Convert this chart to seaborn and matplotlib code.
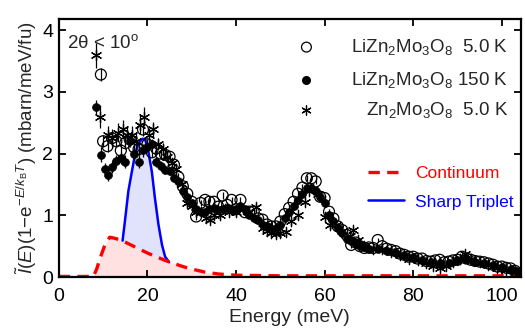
import numpy as np
import pandas as pd
import matplotlib
matplotlib.use("Agg")
import matplotlib.pyplot as plt
import seaborn as sns

# ---------------- data ----------------
# LiZn2Mo3O8 5.0 K (open circles)
open_E = [9.5, 10, 11, 12, 13, 14, 15, 16, 17, 18, 19, 20, 21, 22, 23, 24, 25, 26, 27, 28,
          29, 30, 31, 32, 33, 34, 35, 36, 37, 38, 39, 40, 41, 42, 43, 44, 45, 46, 47, 48,
          49, 50, 51, 52, 53, 54, 55, 56, 57, 58, 59, 60, 61, 62, 63, 64, 65, 66, 67, 68,
          69, 70, 71, 72, 73, 74, 75, 76, 77, 78, 79, 80, 81, 82, 83, 84, 85, 86, 87, 88,
          89, 90, 91, 92, 93, 94, 95, 96, 97, 98, 99, 100, 101, 102, 103]
open_I = [3.28, 2.20, 2.12, 2.25, 2.20, 2.05, 2.17, 2.23, 2.10, 2.07, 2.39, 2.15, 2.02, 2.08, 2.00, 1.98, 1.95, 1.82, 1.62, 1.47,
          1.35, 1.22, 0.98, 1.20, 1.25, 1.22, 1.22, 1.14, 1.32, 1.17, 1.25, 1.10, 1.25, 1.05, 1.06, 1.06, 0.95, 0.93, 0.85, 0.82,
          0.82, 0.90, 1.02, 1.12, 1.22, 1.35, 1.45, 1.60, 1.60, 1.55, 1.30, 1.28, 1.06, 0.95, 0.82, 0.76, 0.68, 0.52, 0.56, 0.50,
          0.47, 0.48, 0.47, 0.60, 0.50, 0.46, 0.44, 0.42, 0.38, 0.36, 0.33, 0.33, 0.30, 0.30, 0.26, 0.25, 0.27, 0.28, 0.24, 0.25,
          0.27, 0.28, 0.33, 0.30, 0.28, 0.26, 0.25, 0.24, 0.22, 0.20, 0.17, 0.17, 0.15, 0.14, 0.10]
open_err = [0.10, 0.10, 0.10, 0.10, 0.10, 0.10, 0.10, 0.10, 0.10, 0.10, 0.10, 0.08, 0.08, 0.08, 0.08, 0.08, 0.06, 0.06, 0.06, 0.06,
            0.05, 0.05, 0.05, 0.05, 0.05, 0.05, 0.05, 0.05, 0.05, 0.05, 0.05, 0.05, 0.05, 0.05, 0.05, 0.05, 0.05, 0.05, 0.05, 0.05,
            0.05, 0.05, 0.05, 0.05, 0.05, 0.05, 0.05, 0.05, 0.05, 0.05, 0.05, 0.05, 0.05, 0.05, 0.05, 0.05, 0.05, 0.05, 0.05, 0.05,
            0.04, 0.04, 0.04, 0.04, 0.04, 0.04, 0.04, 0.04, 0.04, 0.04, 0.04, 0.04, 0.04, 0.04, 0.04, 0.04, 0.04, 0.04, 0.04, 0.04,
            0.04, 0.04, 0.04, 0.04, 0.04, 0.04, 0.04, 0.04, 0.04, 0.04, 0.04, 0.04, 0.04, 0.04, 0.04]

# LiZn2Mo3O8 150 K (filled circles)
fill_E = [8.5, 9.5, 10.5, 11.2, 12, 13, 14, 15, 16, 17, 18, 19, 20, 21, 22, 23, 24, 25, 26, 27,
          28, 29, 30, 31, 32, 33, 34, 35, 36, 37, 38, 39, 40, 41, 42, 43, 44, 45, 46, 47,
          48, 49, 50, 51, 52, 53, 54, 55, 56, 57, 58, 59, 60, 61, 62, 63, 64, 65, 66, 67,
          68, 69, 70, 72, 74, 76, 78, 80, 82, 84, 86, 88, 90, 92, 94, 96, 98, 100, 102, 103.5]
fill_I = [2.75, 1.98, 1.75, 1.65, 1.78, 1.88, 1.93, 1.87, 2.20, 2.00, 1.87, 2.05, 2.10, 2.15, 1.87, 1.80, 1.74, 1.72, 1.60, 1.55,
          1.40, 1.30, 1.20, 1.10, 1.05, 1.05, 1.10, 1.12, 1.08, 1.10, 1.12, 1.08, 1.10, 1.15, 1.10, 1.00, 0.95, 0.92, 0.85, 0.82,
          0.78, 0.80, 0.85, 0.95, 1.05, 1.15, 1.25, 1.35, 1.45, 1.45, 1.40, 1.30, 1.20, 1.00, 0.90, 0.80, 0.72, 0.62, 0.58, 0.53,
          0.50, 0.48, 0.46, 0.45, 0.43, 0.40, 0.35, 0.32, 0.28, 0.25, 0.22, 0.22, 0.28, 0.30, 0.25, 0.22, 0.20, 0.16, 0.13, 0.10]
fill_err = [0.12, 0.12, 0.10, 0.10, 0.10, 0.10, 0.10, 0.10, 0.10, 0.10, 0.10, 0.10, 0.08, 0.08, 0.08, 0.08, 0.06, 0.06, 0.06, 0.06,
            0.05, 0.05, 0.05, 0.05, 0.05, 0.05, 0.05, 0.05, 0.05, 0.05, 0.05, 0.05, 0.05, 0.05, 0.05, 0.05, 0.05, 0.05, 0.05, 0.05,
            0.05, 0.05, 0.05, 0.05, 0.05, 0.05, 0.05, 0.05, 0.05, 0.05, 0.05, 0.05, 0.05, 0.05, 0.05, 0.05, 0.05, 0.05, 0.05, 0.05,
            0.04, 0.04, 0.04, 0.04, 0.04, 0.04, 0.04, 0.04, 0.04, 0.04, 0.04, 0.04, 0.04, 0.04, 0.04, 0.04, 0.04, 0.04, 0.04, 0.04]

# Zn2Mo3O8 5.0 K (asterisks)
star_E = [8.4, 9.4, 11, 12, 13.4, 14.5, 15.3, 16.5, 17.5, 18.3, 19.3, 20.3, 21.3, 22.5, 23.5, 24.5, 25.5, 26.5, 27.8, 29,
          30, 31, 32, 33.3, 34.1, 35, 36.5, 37.5, 38.5, 40, 41.5, 43, 44.6, 46, 47, 48, 49, 50, 51.4, 52.5,
          54, 55.5, 56.5, 57.5, 58.5, 60, 61.2, 62.5, 64, 65.7, 66.4, 67.5, 69, 71, 73, 75, 77, 79, 81, 83,
          84.5, 86, 87.5, 89, 90.5, 91.7, 93, 95, 97, 99, 101, 103]
star_I = [3.59, 2.60, 2.30, 2.25, 2.34, 2.40, 2.30, 2.30, 2.20, 2.47, 2.60, 2.30, 2.39, 2.15, 2.07, 1.95, 1.85, 1.75, 1.50, 1.20,
          1.15, 1.05, 1.05, 0.95, 0.93, 1.00, 1.00, 1.10, 1.05, 1.05, 1.10, 1.05, 1.14, 0.79, 0.75, 0.72, 0.70, 0.71, 0.73, 0.90,
          1.00, 1.22, 1.40, 1.42, 1.35, 0.98, 0.85, 0.85, 0.75, 0.66, 0.76, 0.60, 0.50, 0.45, 0.45, 0.40, 0.35, 0.30, 0.28, 0.22,
          0.18, 0.14, 0.18, 0.25, 0.30, 0.37, 0.30, 0.25, 0.20, 0.15, 0.12, 0.08]
star_err = [0.20, 0.18, 0.15, 0.15, 0.15, 0.15, 0.15, 0.15, 0.15, 0.15, 0.15, 0.12, 0.12, 0.10, 0.10, 0.08, 0.08, 0.08, 0.06, 0.06,
            0.06, 0.06, 0.06, 0.06, 0.06, 0.06, 0.06, 0.06, 0.06, 0.06, 0.06, 0.06, 0.06, 0.06, 0.06, 0.06, 0.06, 0.06, 0.06, 0.06,
            0.06, 0.06, 0.06, 0.06, 0.06, 0.06, 0.05, 0.05, 0.05, 0.05, 0.05, 0.05, 0.05, 0.05, 0.05, 0.05, 0.05, 0.05, 0.05, 0.05,
            0.05, 0.05, 0.05, 0.05, 0.05, 0.05, 0.05, 0.05, 0.05, 0.05, 0.05, 0.05]

# Model curves
cont_E = [0, 7.8, 8.5, 9.3, 10.4, 11.5, 12.5, 14, 16, 18, 20, 22, 24, 26, 28, 30, 33, 36, 40, 50, 104]
cont_I = [0.01, 0.01, 0.12, 0.30, 0.52, 0.645, 0.63, 0.60, 0.53, 0.46, 0.39, 0.33, 0.27, 0.22, 0.17, 0.13, 0.08, 0.05, 0.03, 0.02, 0.02]
trip_E = [14.4, 15.0, 15.7, 16.5, 17.2, 18.0, 18.9, 19.5, 20.2, 21.0, 21.7, 22.5, 23.3, 24.0, 24.9]
trip_I = [0.59, 0.95, 1.39, 1.71, 1.98, 2.17, 2.24, 2.23, 2.04, 1.71, 1.28, 0.85, 0.52, 0.33, 0.24]

x_ticks = [0, 20, 40, 60, 80, 100]
y_ticks = [0, 1, 2, 3, 4]
series_labels = [r"LiZn$_2$Mo$_3$O$_8$  5.0 K", r"LiZn$_2$Mo$_3$O$_8$ 150 K", r"Zn$_2$Mo$_3$O$_8$  5.0 K"]

# ---------------- style ----------------
sns.set_theme(style="ticks")
plt.rcParams["font.family"] = ["Liberation Sans", "DejaVu Sans"]
plt.rcParams["mathtext.fontset"] = "custom"
plt.rcParams["mathtext.rm"] = "Liberation Sans"
plt.rcParams["mathtext.it"] = "Liberation Sans:italic"
plt.rcParams["mathtext.bf"] = "Liberation Sans:bold"

fig = plt.figure(figsize=(5.25, 3.33), dpi=100)
ax = fig.add_axes([0.112, 0.168, 0.88, 0.775])

# fills
cont_on_trip = np.interp(trip_E, cont_E, cont_I)
ax.fill_between(cont_E, 0, cont_I, color="#ffe1e1", lw=0, zorder=0)
ax.fill_between(trip_E, cont_on_trip, trip_I, color="#e0e3fb", lw=0, zorder=0)

# lines
sns.lineplot(x=trip_E, y=trip_I, ax=ax, color="#0000ff", lw=1.8, sort=False,
             estimator=None, label="Sharp Triplet", zorder=2)
sns.lineplot(x=cont_E, y=cont_I, ax=ax, color="#ff0000", lw=2.4, sort=False,
             estimator=None, label="Continuum", zorder=2)
ax.lines[-1].set_dashes([3.4, 2.2])

# error bars
ekw = dict(fmt="none", ecolor="black", elinewidth=0.9, capsize=0, zorder=3)
ax.errorbar(fill_E, fill_I, yerr=fill_err, **ekw)
ax.errorbar(star_E, star_I, yerr=star_err, **ekw)
ax.errorbar(open_E, open_I, yerr=open_err, **ekw)

# points
sns.scatterplot(x=fill_E, y=fill_I, ax=ax, marker="o", s=32, color="black",
                edgecolor="black", linewidth=0.5, zorder=4, legend=False)
sns.scatterplot(x=star_E, y=star_I, ax=ax, marker=(6, 2, 0), s=55, color="black",
                edgecolor="black", linewidth=0.9, zorder=4, legend=False)
sns.scatterplot(x=open_E, y=open_I, ax=ax, marker="o", s=62, facecolor="none",
                edgecolor="black", linewidth=0.9, zorder=5, legend=False)

# axes
ax.set_xlim(0, 104.3)
ax.set_ylim(0, 4.18)
ax.set_xticks(x_ticks)
ax.set_yticks(y_ticks)
ax.tick_params(direction="in", length=5, width=1.3, top=True, right=True,
               labelsize=14, pad=4, colors="black")
ax.tick_params(axis="x", pad=8)
for sp in ax.spines.values():
    sp.set_linewidth(1.6)
    sp.set_color("black")
ax.set_xlabel("Energy (meV)", fontsize=14, labelpad=3)
ax.set_ylabel(r"$\tilde{I}(E)(1\mathrm{-e}^{-E/k_\mathrm{B}T})$ (mbarn/meV/fu)",
              fontsize=13.5, labelpad=2)

# model legend
h, l = ax.get_legend_handles_labels()
order = [l.index("Continuum"), l.index("Sharp Triplet")]
leg = ax.legend([h[i] for i in order], [l[i] for i in order], loc="upper left",
                bbox_to_anchor=(0.635, 0.49), frameon=False, fontsize=12.5,
                handlelength=2.1, handletextpad=0.6, labelspacing=0.75,
                labelcolor="linecolor")

# sample legend (markers + right aligned labels)
mx = 0.536
rows = [0.891, 0.764, 0.647]
ax.scatter([mx], [rows[0]], transform=ax.transAxes, s=50, facecolor="none",
           edgecolor="black", linewidth=0.9, clip_on=False, zorder=6)
ax.scatter([mx], [rows[1]], transform=ax.transAxes, s=30, color="black", clip_on=False, zorder=6)
ax.scatter([mx], [rows[2]], transform=ax.transAxes, s=45, marker=(6, 2, 0), color="black",
           linewidth=0.9, clip_on=False, zorder=6)
for r, lab in zip(rows, series_labels):
    ax.text(0.972, r, lab, transform=ax.transAxes, ha="right", va="center", fontsize=13.5)

ax.text(0.017, 0.905, r"2θ < 10$^\mathrm{o}$", transform=ax.transAxes, ha="left",
        va="center", fontsize=13.5)

fig.savefig("out.png", dpi=100)
